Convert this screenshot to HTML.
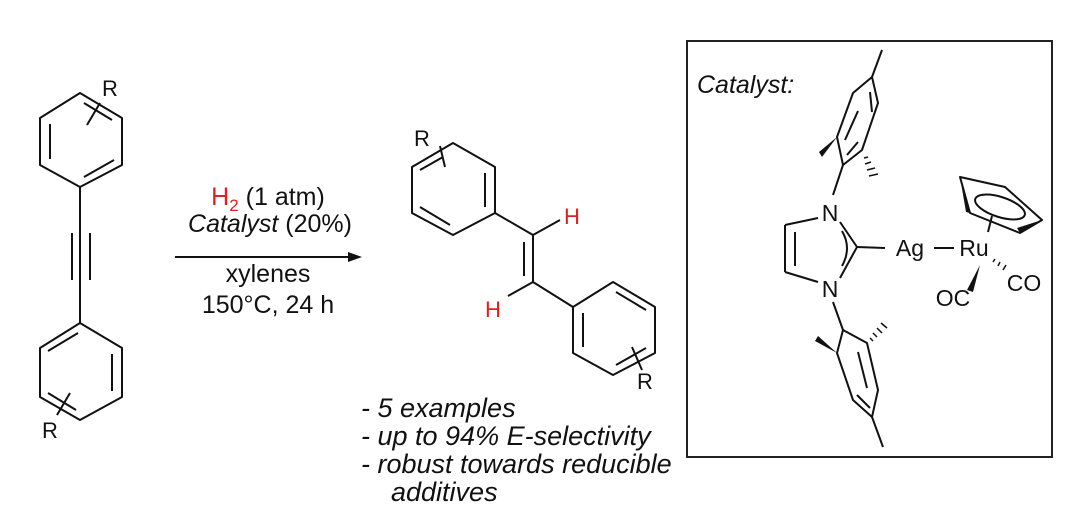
<!DOCTYPE html>
<html><head><meta charset="utf-8"><style>
html,body{margin:0;padding:0;background:#fff;}
svg{display:block;}
text{font-family:"Liberation Sans",Arial,sans-serif;fill:#111;}
</style></head><body>
<svg width="1066" height="532" viewBox="0 0 1066 532" xmlns="http://www.w3.org/2000/svg">
<g stroke="#111" stroke-width="2" fill="none" stroke-linejoin="round">
<polygon points="80,93 122,118 122,165 80,187 40,165 40,118"/>
<line x1="50" y1="124" x2="50" y2="159"/>
<line x1="84" y1="177" x2="114" y2="160"/>
<line x1="84" y1="103" x2="112" y2="120"/>
<line x1="87" y1="125" x2="100" y2="103"/>
<line x1="80" y1="187" x2="80" y2="323"/>
<line x1="72" y1="233" x2="72" y2="280"/>
<line x1="90" y1="233" x2="90" y2="280"/>
<polygon points="80,323 122,348 122,397 80,420 40,397 40,348"/>
<line x1="112" y1="354" x2="112" y2="391"/>
<line x1="78" y1="333" x2="48" y2="351"/>
<line x1="48" y1="393" x2="76" y2="410"/>
<line x1="57" y1="415" x2="70" y2="393"/>
<line x1="175" y1="257" x2="352" y2="257"/>
</g>
<polygon points="362,257 348,252 348,262" fill="#111"/>
<text x="268" y="205" font-size="25" text-anchor="middle"><tspan style="fill:#e02020">H</tspan><tspan font-size="17" dy="6" style="fill:#e02020">2</tspan><tspan dy="-6"> (1 atm)</tspan></text>
<text x="270" y="232" font-size="25" text-anchor="middle"><tspan font-style="italic">Catalyst</tspan> (20%)</text>
<text x="268" y="282" font-size="25" text-anchor="middle">xylenes</text>
<text x="268" y="313" font-size="25" text-anchor="middle">150°C, 24 h</text>
<text x="102" y="96" font-size="22">R</text>
<text x="42" y="438" font-size="22">R</text>

<g stroke="#111" stroke-width="2" fill="none" stroke-linejoin="round">
<polygon points="453,143 495,167 495,213 453,235 412,213 412,167"/>
<line x1="485" y1="173" x2="485" y2="207"/>
<line x1="450" y1="225" x2="420" y2="207"/>
<line x1="420" y1="170" x2="443" y2="157"/>
<line x1="440" y1="146" x2="445" y2="167"/>
<line x1="495" y1="213" x2="533" y2="235"/>
<line x1="533" y1="235" x2="560" y2="220"/>
<line x1="533" y1="235" x2="533" y2="282"/>
<line x1="524" y1="242" x2="524" y2="276"/>
<line x1="533" y1="282" x2="508" y2="296"/>
<line x1="533" y1="282" x2="573" y2="307"/>
<polygon points="573,307 613,282 655,307 655,353 613,375 573,353"/>
<line x1="583" y1="313" x2="583" y2="347"/>
<line x1="616" y1="292" x2="646" y2="310"/>
<line x1="616" y1="365" x2="646" y2="348"/>
<line x1="632" y1="347" x2="642" y2="370"/>
</g>
<text x="414" y="146" font-size="22">R</text>
<text x="564" y="224" font-size="22" style="fill:#e02020">H</text>
<text x="485" y="317" font-size="22" style="fill:#e02020">H</text>
<text x="637" y="389" font-size="22">R</text>
<g font-size="27" font-style="italic">
<text x="361" y="417">- 5 examples</text>
<text x="361" y="445">- up to 94% E-selectivity</text>
<text x="361" y="473">- robust towards reducible</text>
<text x="391" y="501">additives</text>
</g>

<rect x="687" y="41" width="365" height="416" fill="none" stroke="#222" stroke-width="2"/>
<text x="697" y="93" font-size="25" font-style="italic">Catalyst:</text>
<g stroke="#111" stroke-width="2" fill="none" stroke-linejoin="round">
<line x1="882" y1="50" x2="872" y2="77"/>
<polygon points="872,77 878,103 862,150 843,165 837,137 853,93"/>
<line x1="870" y1="92" x2="872" y2="112"/>
<line x1="845" y1="140" x2="858" y2="111"/>
<line x1="847" y1="155" x2="858" y2="142"/>
<line x1="843" y1="165" x2="833" y2="195"/>
<line x1="818" y1="218" x2="785" y2="225"/>
<line x1="785" y1="225" x2="785" y2="272"/>
<line x1="795" y1="232" x2="795" y2="266"/>
<line x1="785" y1="272" x2="818" y2="282"/>
<line x1="840" y1="222" x2="857" y2="247"/>
<line x1="857" y1="247" x2="840" y2="278"/>
<path d="M842,231 Q852,248 842,266"/>
<line x1="857" y1="247" x2="885" y2="248"/>
<line x1="934" y1="248" x2="954" y2="248"/>
<line x1="833" y1="302" x2="843" y2="330"/>
<polygon points="843,330 867,343 878,390 872,417 853,400 837,353"/>
<line x1="858" y1="352" x2="867" y2="388"/>
<line x1="857" y1="395" x2="870" y2="408"/>
<line x1="872" y1="417" x2="883" y2="447"/>
<polygon points="960,177 1005,187 1042,220 1020,233 970,213"/>
<ellipse cx="1000" cy="207" rx="26" ry="10" transform="rotate(18 1000 207)"/>
<line x1="988" y1="232" x2="992" y2="216"/>
</g>
<polygon points="960,177 970,213 966,212" fill="#111"/>
<polygon points="1020,233 1042,220 1017,228" fill="#111"/>
<polygon points="837,137 819,152 822,157" fill="#111"/>
<polygon points="837,353 818,336 815,341" fill="#111"/>
<polygon points="980,265 967,290 973,292" fill="#111"/>
<g stroke="#111" stroke-width="1.5">
<line x1="864" y1="158" x2="868" y2="157"/>
<line x1="865" y1="164" x2="871" y2="162"/>
<line x1="867" y1="170" x2="875" y2="168"/>
<line x1="869" y1="176" x2="878" y2="174"/>
<line x1="870" y1="338" x2="873" y2="341"/>
<line x1="873" y1="333" x2="877" y2="337"/>
<line x1="877" y1="328" x2="882" y2="333"/>
<line x1="881" y1="323" x2="887" y2="328"/>
<line x1="993" y1="262" x2="995" y2="259"/>
<line x1="998" y1="266" x2="1000" y2="262"/>
<line x1="1003" y1="270" x2="1006" y2="265"/>
</g>
<g font-size="23">
<text x="830" y="221" text-anchor="middle">N</text>
<text x="830" y="297" text-anchor="middle">N</text>
<text x="910" y="256" text-anchor="middle">Ag</text>
<text x="974" y="256" text-anchor="middle">Ru</text>
<text x="953" y="306" text-anchor="middle">OC</text>
<text x="1024" y="291" text-anchor="middle">CO</text>
</g>
</svg>
</body></html>
